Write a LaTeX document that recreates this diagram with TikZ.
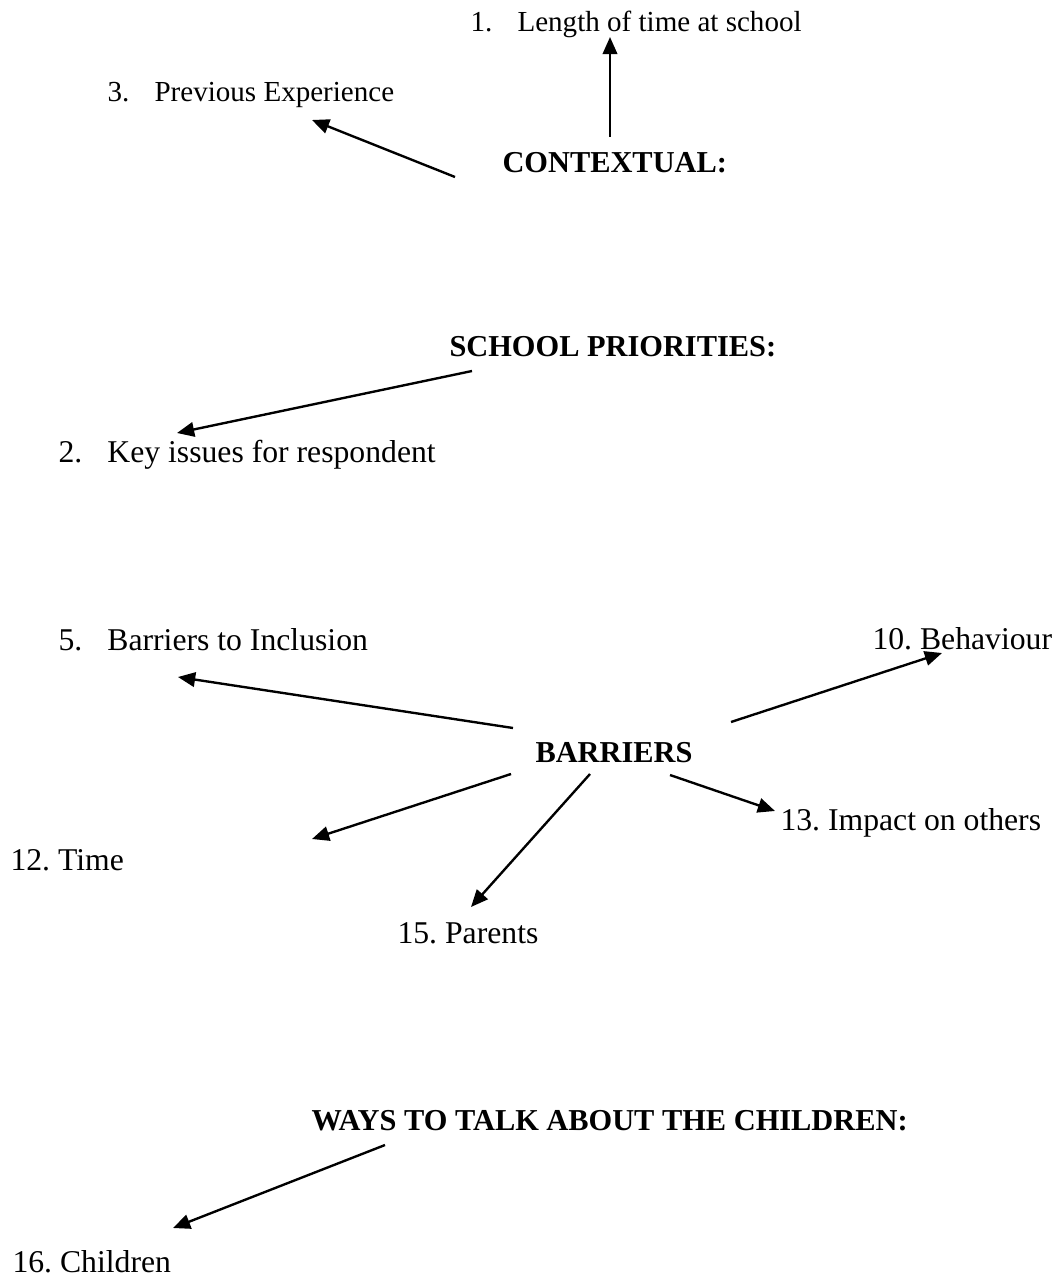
\documentclass[tikz,border=0pt]{standalone}
\usepackage{fontspec}
\setmainfont{Liberation Serif}
\usetikzlibrary{arrows.meta}
\frenchspacing

\begin{document}
\begin{tikzpicture}
[x=0.0133cm, y=-0.0133cm,
 item/.style ={anchor=west, inner sep=0pt, text depth=0pt, font=\fontsize{12}{14}\selectfont, text height=8pt},
 small/.style ={item, font=\fontsize{11}{13}\selectfont, text height=7.3pt},
 head/.style ={item, font=\fontsize{11.5}{13.5}\selectfont\bfseries, text height=7.7pt},
 line/.style ={draw, line width=0.9pt, -{Triangle[length=6.5pt,width=5.5pt]}}]
\useasboundingbox (0,0) rectangle (1061,1279);
% headings
\path (502,162) node[head] (ctx){CONTEXTUAL:}
      (449,346) node[head] (prio){SCHOOL PRIORITIES:}
      (535,752) node[head] (barr){BARRIERS}
      (311,1120) node[head] (ways){WAYS TO TALK ABOUT THE CHILDREN:};
% items
\path (470,22) node[small] (len){\makebox[17.8pt][l]{1.}Length of time at school}
      (107,92) node[small] (prev){\makebox[17.8pt][l]{3.}Previous Experience}
      (58,452) node[item] (key){\makebox[18.5pt][l]{2.}Key issues for respondent}
      (58,640) node[item] (incl){\makebox[18.5pt][l]{5.}Barriers to Inclusion}
      (872,639) node[item] (behav){10. Behaviour}
      (780,820) node[item] (impact){13. Impact on others}
      (10,860) node[item] (time){12. Time}
      (397,933) node[item] (par){15. Parents}
      (12,1262) node[item] (child){16. Children};
% arrow ends
\coordinate (ctx-n) at (610,137);
\coordinate (len-s) at (610,37);
\coordinate (ctx-w) at (455,177);
\coordinate (prev-s) at (312,120);
\coordinate (prio-w) at (472,371);
\coordinate (key-n) at (177,433);
\coordinate (barr-nw) at (513,728);
\coordinate (incl-s) at (178,677);
\coordinate (barr-ne) at (731,722);
\coordinate (behav-s) at (942,653);
\coordinate (barr-sw) at (511,774);
\coordinate (time-e) at (312,839);
\coordinate (barr-s) at (590,774);
\coordinate (par-n) at (471,907);
\coordinate (barr-se) at (670,775);
\coordinate (impact-w) at (775,811);
\coordinate (ways-sw) at (385,1145);
\coordinate (child-n) at (173,1228);
\draw[line] (ctx-n) -- (len-s);
\draw[line] (ctx-w) -- (prev-s);
\draw[line] (prio-w) -- (key-n);
\draw[line] (barr-nw) -- (incl-s);
\draw[line] (barr-ne) -- (behav-s);
\draw[line] (barr-sw) -- (time-e);
\draw[line] (barr-s) -- (par-n);
\draw[line] (barr-se) -- (impact-w);
\draw[line] (ways-sw) -- (child-n);
\end{tikzpicture}
\end{document}
